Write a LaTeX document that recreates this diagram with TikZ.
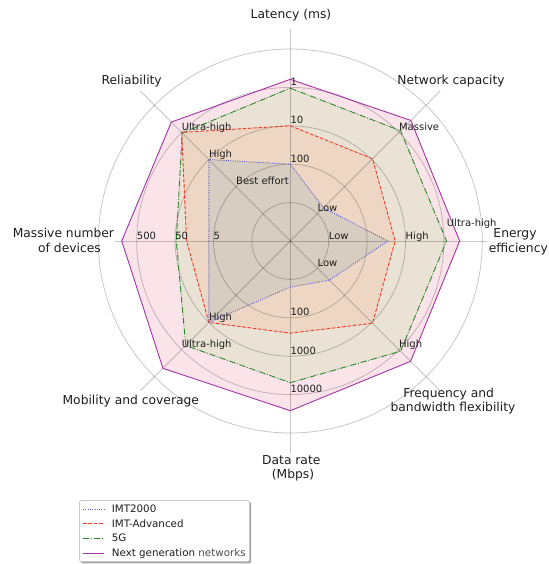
\documentclass[tikz,border=0pt]{standalone}
\usepackage{fontspec}
\setmainfont{DejaVu Sans}
\definecolor{txt}{RGB}{30,30,30}
\definecolor{fpink}{RGB}{250,228,233}
\definecolor{fbeige}{RGB}{233,226,213}
\definecolor{fpeach}{RGB}{237,215,196}
\definecolor{fgrey}{RGB}{216,205,193}
\definecolor{cpurple}{RGB}{165,50,165}
\definecolor{cgreen}{RGB}{40,135,40}
\definecolor{cred}{RGB}{245,60,40}
\definecolor{cblue}{RGB}{90,90,200}
\begin{document}
\begin{tikzpicture}[x=1pt,y=-1pt,
  gridc/.style={draw=black, draw opacity=0.22, line width=0.8pt},
  tick/.style={font=\fontsize{10}{12}\selectfont, text=txt, anchor=base west, inner sep=0pt, yshift=2pt},
  axl/.style={font=\fontsize{12.3}{14.5}\selectfont, text=txt, anchor=base, inner sep=0pt},
  leg/.style={font=\fontsize{10.3}{12}\selectfont, text=txt, anchor=base west, inner sep=0pt},
  imtb/.style={draw=cblue, line width=0.9pt, dash pattern=on 1pt off 1.3pt},
  imtr/.style={draw=cred, line width=0.9pt, dash pattern=on 3.7pt off 1.6pt},
  fiveg/.style={draw=cgreen, line width=0.9pt, dash pattern=on 6.4pt off 1.6pt on 1pt off 1.6pt},
  nextg/.style={draw=cpurple, line width=0.9pt},
  legline/.style={line width=1.3pt},
]
\useasboundingbox (0,0) rectangle (548,564);
\fill[white] (0,0) rectangle (548,564);

\begin{scope}[shift={(290.3,241)}, y=1pt]
\def\R{38.4}
% fills
\fill[fpink] (90:4.21*\R) -- (45:4.44*\R) -- (0:4.41*\R) -- (-45:4.43*\R) -- (-90:4.42*\R) -- (-135:4.69*\R) -- (180:4.39*\R) -- (135:4.38*\R) -- cycle;
\fill[fbeige] (90:3.98*\R) -- (45:4.06*\R) -- (0:4.07*\R) -- (-45:4.06*\R) -- (-90:3.69*\R) -- (-135:3.85*\R) -- (180:2.97*\R) -- (135:3.98*\R) -- cycle;
\fill[fpeach] (90:3.0*\R) -- (45:3.03*\R) -- (0:2.73*\R) -- (-45:3.03*\R) -- (-90:2.4*\R) -- (-135:3.0*\R) -- (180:2.7*\R) -- (135:4.0*\R) -- cycle;
\fill[fgrey] (90:2.0*\R) -- (45:1.22*\R) -- (0:2.54*\R) -- (-45:1.44*\R) -- (-90:1.2*\R) -- (-135:3.0*\R) -- (180:2.12*\R) -- (135:3.0*\R) -- cycle;
% grid
\foreach \i in {1,...,5} \draw[gridc] (0,0) circle[radius=\i*\R];
\foreach \a in {45,90,135,-45,-90,-135} \draw[gridc] (0,0) -- (\a:212);
\draw[gridc] (0,0) -- (196.7,0);
\draw[gridc] (0,0) -- (-175.3,0);
% outlines
\draw[nextg] (90:4.21*\R) -- (45:4.44*\R) -- (0:4.41*\R) -- (-45:4.43*\R) -- (-90:4.42*\R) -- (-135:4.69*\R) -- (180:4.39*\R) -- (135:4.38*\R) -- cycle;
\draw[fiveg] (90:3.98*\R) -- (45:4.06*\R) -- (0:4.07*\R) -- (-45:4.06*\R) -- (-90:3.69*\R) -- (-135:3.85*\R) -- (180:2.97*\R) -- (135:3.98*\R) -- cycle;
\draw[imtr] (90:3.0*\R) -- (45:3.03*\R) -- (0:2.73*\R) -- (-45:3.03*\R) -- (-90:2.4*\R) -- (-135:3.0*\R) -- (180:2.7*\R) -- (135:4.0*\R) -- cycle;
\draw[imtb] (90:2.0*\R) -- (45:1.22*\R) -- (0:2.54*\R) -- (-45:1.44*\R) -- (-90:1.2*\R) -- (-135:3.0*\R) -- (180:2.12*\R) -- (135:3.0*\R) -- cycle;
% tick labels
\node[tick] (lat1) at (90:4*\R) {1};
\node[tick] (lat2) at (90:3*\R) {10};
\node[tick] (lat3) at (90:2*\R) {100};
\node[tick] (net1) at (45:4*\R) {Massive};
\node[tick] (net2) at (45:1*\R) {Low};
\node[tick] (ene1) at (156.4,12.2) {Ultra-high};
\node[tick] (ene2) at (0:3*\R) {High};
\node[tick] (ene3) at (0:1*\R) {Low};
\node[tick] (fre1) at (-45:4*\R) {High};
\node[tick] (fre2) at (-45:1*\R) {Low};
\node[tick] (dat1) at (-90:2*\R) {100};
\node[tick] (dat2) at (-90:3*\R) {1000};
\node[tick] (dat3) at (-90:4*\R) {10000};
\node[tick] (mob1) at (-135:3*\R) {High};
\node[tick] (mob2) at (-135:4*\R) {Ultra-high};
\node[tick] (dev1) at (180:2*\R) {5};
\node[tick] (dev2) at (180:3*\R) {50};
\node[tick] (dev3) at (180:4*\R) {500};
\node[tick] (rel1) at (135:4*\R) {Ultra-high};
\node[tick] (rel2) at (135:3*\R) {High};
\node[tick] (rel3) at (135:2*\R) {Best effort};
\end{scope}

% axis labels
\node[axl] (alat) at (291,18.5) {Latency (ms)};
\node[axl] (arel) at (131.7,84.7) {Reliability};
\node[axl] (anet) at (451,84.7) {Network capacity};
\node[axl] (aene1) at (515,237.3) {Energy};
\node[axl] (aene2) at (518.3,252) {efficiency};
\node[axl] (adev1) at (63.4,237.3) {Massive number};
\node[axl] (adev2) at (69.5,252.3) {of devices};
\node[axl] (amob) at (130.8,404) {Mobility and coverage};
\node[axl] (adat1) at (291.3,464) {Data rate};
\node[axl] (adat2) at (293,478.5) {(Mbps)};
\node[axl] (afre1) at (448.7,397.3) {Frequency and};
\node[axl] (afre2) at (453,411.3) {bandwidth flexibility};

% legend
\fill[black!35, rounded corners=2pt] (81,502) rectangle (251.2,563.4);
\draw[black!22, fill=white, rounded corners=2pt, line width=0.8pt] (79.5,500.5) rectangle (249.5,561.5);
\coordinate (l1a) at (83,509.5); \coordinate (l1b) at (104,509.5);
\coordinate (l2a) at (83,523.5); \coordinate (l2b) at (104,523.5);
\coordinate (l3a) at (83,538.5); \coordinate (l3b) at (104,538.5);
\coordinate (l4a) at (83,553.5); \coordinate (l4b) at (104,553.5);
\draw[imtb, legline] (l1a) -- (l1b);
\draw[imtr, legline] (l2a) -- (l2b);
\draw[fiveg, legline] (l3a) -- (l3b);
\draw[nextg, legline] (l4a) -- (l4b);
\node[leg] (t1) at (111.7,512.5) {IMT2000};
\node[leg] (t2) at (111.7,527.2) {IMT-Advanced};
\node[leg] (t3) at (111.7,541.9) {5G};
\node[leg] (t4) at (111.7,556.6) {Next generation \textcolor{black!70}{networks}};
\end{tikzpicture}
\end{document}
